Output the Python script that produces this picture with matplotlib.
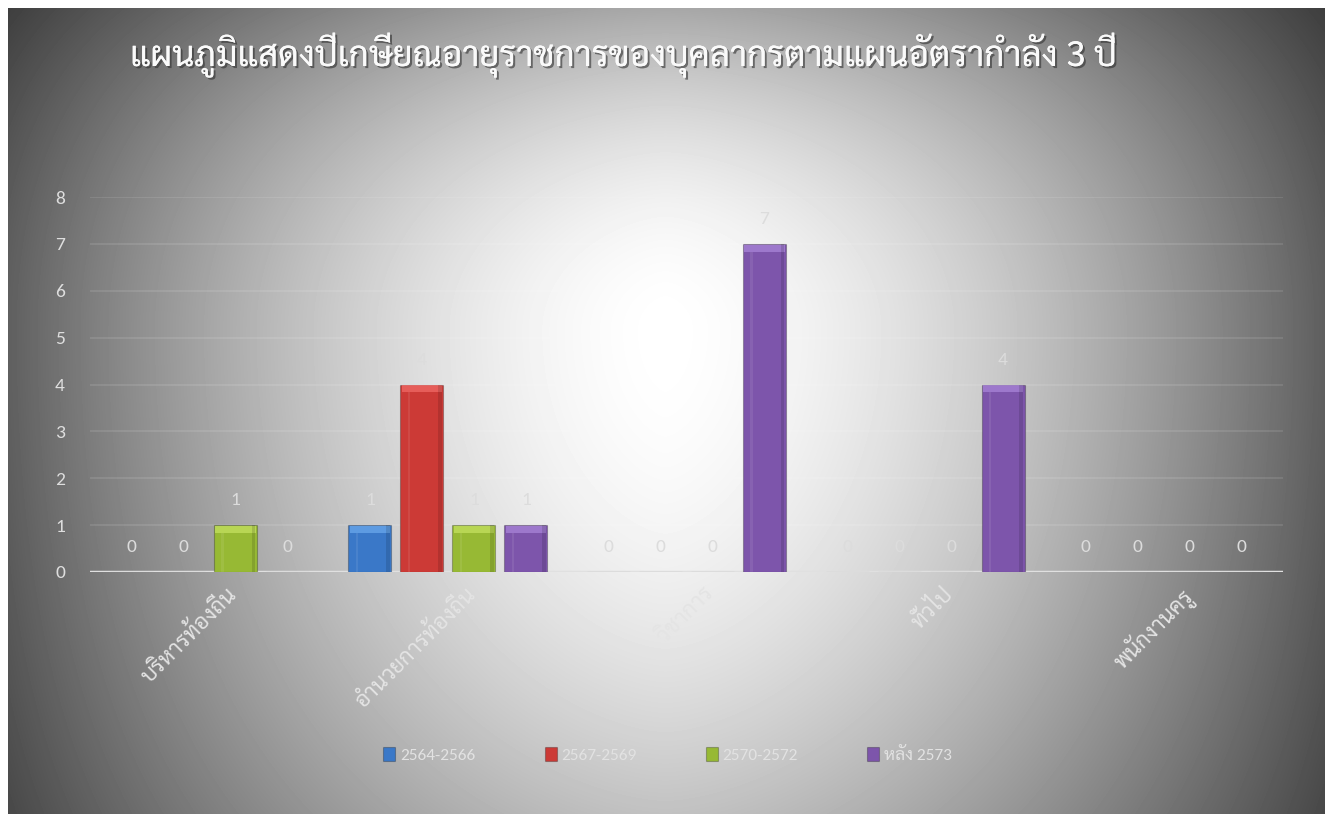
import numpy as np
import matplotlib
matplotlib.use('Agg')
import matplotlib.pyplot as plt
import matplotlib.patheffects as pe
from matplotlib import font_manager as fm

# ข้อมูล
categories = ['บริหารท้องถิ่น', 'อำนวยการท้องถิ่น', 'วิชาการ', 'ทั่วไป', 'พนักงานครู']
series_names = ['2564-2566', '2567-2569', '2570-2572', 'หลัง 2573']
v_2564 = [0, 1, 0, 0, 0]
v_2567 = [0, 4, 0, 0, 0]
v_2570 = [1, 1, 0, 0, 0]
v_2573 = [0, 1, 7, 4, 0]
title = 'แผนภูมิแสดงปีเกษียณอายุราชการของบุคลากรตามแผนอัตรากำลัง 3 ปี'

colors = ['#3a78c8', '#cc3a36', '#97b934', '#7d55ab']
tops = ['#6aa8ec', '#f06a66', '#c4e060', '#a985d8']

# หาฟอนต์ไทยที่มีอยู่ (เลือกแบบมีหัว)
names = {f.name for f in fm.fontManager.ttflist}
thai = [n for n in ['Sarabun', 'Noto Sans Thai Looped', 'Noto Sans Thai', 'Athiti'] if n in names]
latin = [n for n in ['Carlito', 'Open Sans', 'DejaVu Sans'] if n in names]
plt.rcParams['font.family'] = latin + thai + ['DejaVu Sans']

W, H = 1325, 814
fig = plt.figure(figsize=(W / 100, H / 100), dpi=100)
fig.patch.set_facecolor('white')

# พื้นหลังไล่สี (สว่างตรงกลาง มืดที่ขอบ)
bg = fig.add_axes([8 / W, 0, (W - 8) / W, (H - 8) / H])
yy, xx = np.mgrid[0:H - 8, 0:W - 8].astype(float)
dx = np.abs(xx + 8 - 665.0)
dy = yy + 8 - 330.0
hpart = 1 - 0.6 * (dx / 640.0) ** 1.6
vpart = np.where(dy < 0, 1 - 0.34 * (dy / 320.0) ** 2, 1 - 0.23 * (dy / 470.0) ** 2)
val = np.clip(hpart * vpart, 0.17, 1.0)
bg.imshow(val, cmap='gray', vmin=0, vmax=1, aspect='auto', interpolation='bilinear')
bg.axis('off')

ax = fig.add_axes([90 / W, 1 - 572 / H, (1283 - 90) / W, (572 - 197) / H])
ax.patch.set_alpha(0)
ax.set_xlim(0, 5)
ax.set_ylim(0, 8)

all_vals = [v_2564, v_2567, v_2570, v_2573]
slot = 52 / 238.6
bw = 43 / 238.6
x = np.arange(len(categories)) + 0.5
for i, (vals, c, t, name) in enumerate(zip(all_vals, colors, tops, series_names)):
    xs = x + (i - 1.5) * slot
    ax.bar(xs, vals, bw, color=c, edgecolor='#00000040', linewidth=0.8, label=name, zorder=3)
    # ขอบบนสว่างแบบ bevel
    for xi, v in zip(xs, vals):
        if v > 0:
            ax.bar(xi, 0.15, bw * 0.94, bottom=v - 0.17, color=t, alpha=0.75, linewidth=0, zorder=4)
            ax.bar(xi - bw * 0.3, v - 0.17, bw * 0.06, color='white', alpha=0.08, linewidth=0, zorder=4)
            ax.bar(xi + bw * 0.42, v, bw * 0.08, color='black', alpha=0.12, linewidth=0, zorder=4)
        ax.text(xi, v + 0.36, str(v), ha='center', va='bottom', color='#dcdcdc', fontsize=14, zorder=5)

for yv in range(1, 9):
    ax.axhline(yv, color='white', alpha=0.12, lw=1.2, zorder=1)
ax.axhline(0, color='#e0e0e0', lw=2.5, zorder=2)

for s in ax.spines.values():
    s.set_visible(False)
ax.set_yticks(range(0, 9))
ax.tick_params(axis='y', length=0, labelsize=14, labelcolor='#dedede', pad=18)
ax.set_xticks(x + 0.07)
ax.set_xticklabels(categories, rotation=45, ha='right', rotation_mode='anchor',
                   fontsize=16, color='#e4e4e4', family=thai + ['DejaVu Sans'])
ax.tick_params(axis='x', length=0, pad=8)

leg = ax.legend(loc='upper center', bbox_to_anchor=(0.484, -0.425), ncol=4, frameon=False,
                handlelength=0.7, handleheight=0.9, handletextpad=0.25, columnspacing=4.0,
                prop={'family': latin + thai + ['DejaVu Sans'], 'size': 12.5})
for txt in leg.get_texts():
    txt.set_color('#e2e2e2')

# หัวเรื่อง: ปรับขนาดให้กว้างราว 985 px
ttl = fig.text(130 / W, 1 - 55 / H, title, ha='left', va='center', fontsize=28, color='#fafafa',
               family=thai + ['DejaVu Sans'],
               path_effects=[pe.withSimplePatchShadow(offset=(1.5, -1.5), shadow_rgbFace='#303030', alpha=0.6),
                             pe.Normal()])
r = fig.canvas.get_renderer()
wpx = ttl.get_window_extent(r).width
ttl.set_fontsize(min(36, 28 * 985 / wpx))

fig.savefig('out.png', dpi=100, facecolor='white')
